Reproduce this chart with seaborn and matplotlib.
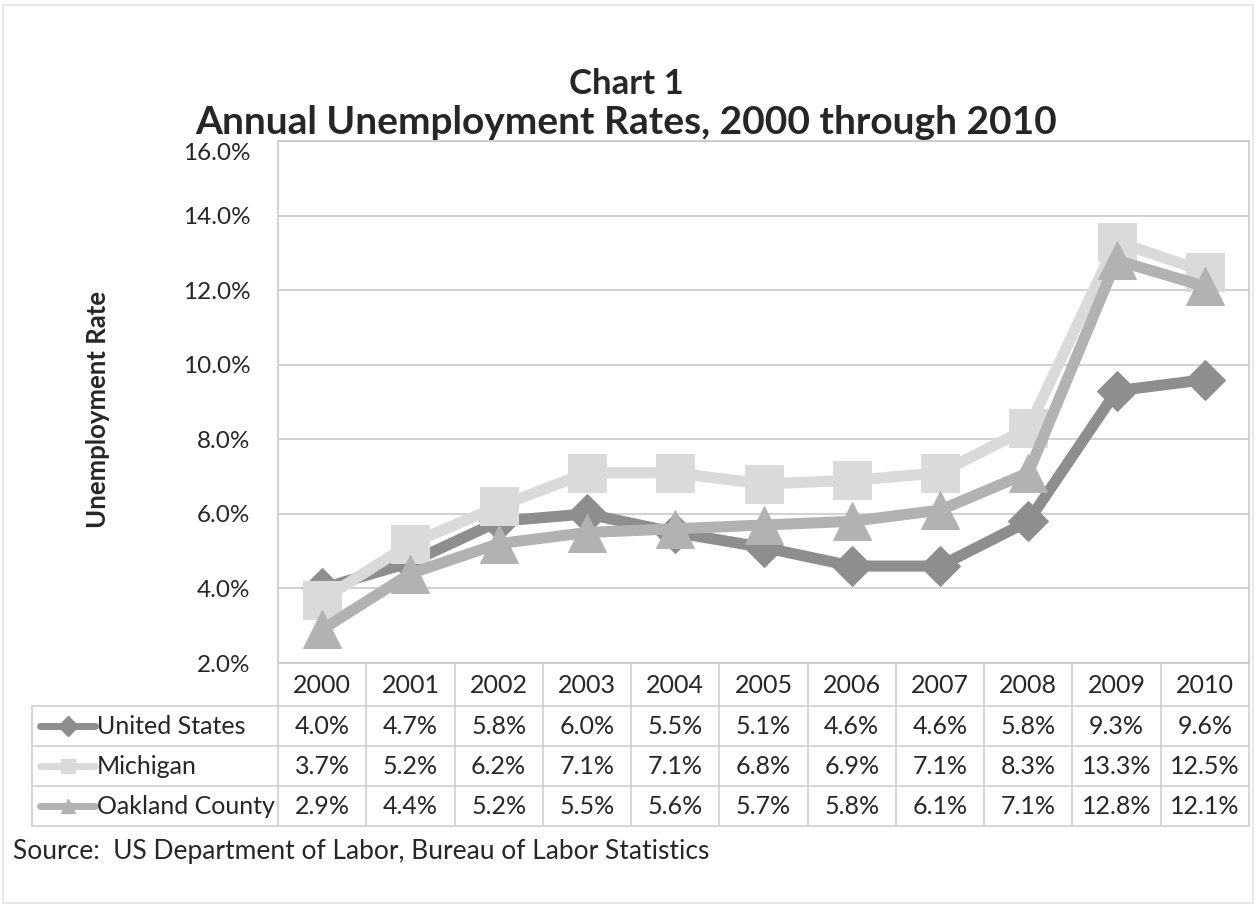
import numpy as np
import pandas as pd
import matplotlib
matplotlib.use("Agg")
import matplotlib.pyplot as plt
import matplotlib.transforms as mtransforms
import seaborn as sns

years = ["2000", "2001", "2002", "2003", "2004", "2005", "2006", "2007", "2008", "2009", "2010"]
series_names = ["United States", "Michigan", "Oakland County"]
us = [4.0, 4.7, 5.8, 6.0, 5.5, 5.1, 4.6, 4.6, 5.8, 9.3, 9.6]
mi = [3.7, 5.2, 6.2, 7.1, 7.1, 6.8, 6.9, 7.1, 8.3, 13.3, 12.5]
oak = [2.9, 4.4, 5.2, 5.5, 5.6, 5.7, 5.8, 6.1, 7.1, 12.8, 12.1]
yticks = [2, 4, 6, 8, 10, 12, 14, 16]

sns.set_theme(style="white")
plt.rcParams['font.family'] = ['Lato', 'DejaVu Sans']

W, H = 1257, 906
fig = plt.figure(figsize=(W / 100, H / 100), dpi=100)
fig.patch.set_facecolor("white")

L, R, T, B = 278, 1249, 141, 663
ax = fig.add_axes([L / W, 1 - B / H, (R - L) / W, (B - T) / H])

values = [us, mi, oak]
df = pd.DataFrame({
    "x": np.tile(np.arange(len(years)), 3),
    "rate": np.concatenate(values),
    "series": np.repeat(series_names, len(years)),
})
colors = {"United States": "#8e8e8e", "Michigan": "#dadada", "Oakland County": "#b2b2b2"}
markers = {"United States": "D", "Michigan": "s", "Oakland County": "^"}
sizes_ms = {"United States": 20, "Michigan": 27, "Oakland County": 28}

sns.lineplot(data=df, x="x", y="rate", hue="series", style="series",
             palette=colors, markers=markers, dashes=False, linewidth=8,
             markersize=20, ax=ax, legend=False, sort=False, zorder=3)
for line, name in zip(ax.get_lines(), series_names):
    line.set_markersize(sizes_ms[name])
    line.set_markeredgecolor(colors[name])
    line.set_markerfacecolor(colors[name])

ax.set_xlim(-0.5, len(years) - 0.5)
ax.set_ylim(2, 16)
ax.set_yticks(yticks)
ax.set_yticklabels([f"{v:.1f}%" for v in yticks], fontsize=17.5)
ax.tick_params(axis="y", length=0, pad=20)
ax.set_xticks([])
ax.set_xlabel("")
ax.set_ylabel("")
# the top tick label sits slightly lower, under the title
top_lbl = ax.get_yticklabels()[-1]
top_lbl.set_transform(top_lbl.get_transform() + mtransforms.ScaledTranslation(0, -11 / 100, fig.dpi_scale_trans))
for y in yticks:
    ax.axhline(y, color="#c9c9c9", lw=1.2, zorder=1)
for s in ax.spines.values():
    s.set_color("#c9c9c9")
    s.set_linewidth(1.2)

fig.text(98 / W, 1 - 410 / H, "Unemployment Rate", rotation=90, ha="center", va="center",
         fontsize=18.5, fontweight="bold")
fig.text(626 / W, 1 - 84 / H, "Chart 1", ha="center", va="center", fontsize=25, fontweight="bold")
fig.text(626 / W, 1 - 123 / H, "Annual Unemployment Rates, 2000 through 2010", ha="center",
         va="center", fontsize=28, fontweight="bold")
fig.text(13 / W, 1 - 852 / H, "Source:  US Department of Labor, Bureau of Labor Statistics",
         ha="left", va="center", fontsize=19)

# data table
TB = 826
tax = fig.add_axes([L / W, 1 - TB / H, (R - L) / W, (TB - B) / H])
tax.set_xlim(-0.5, len(years) - 0.5)
tax.set_ylim(TB, B)
tax.axis("off")
colw = (R - L) / len(years)

def px2x(px):
    return (px - L) / colw - 0.5

grid_c = "#cfcfcf"
row_edges = [B, 706, 746, 786, TB]
xl = px2x(32)
for i in range(len(years) + 1):
    tax.plot([i - 0.5, i - 0.5], [B, TB], color=grid_c, lw=1.2, clip_on=False)
for y in row_edges[1:]:
    tax.plot([xl, len(years) - 0.5], [y, y], color=grid_c, lw=1.2, clip_on=False)
tax.plot([xl, xl], [706, TB], color=grid_c, lw=1.2, clip_on=False)

fs = 18
for i, yr in enumerate(years):
    tax.text(i, (B + 706) / 2 + 1, yr, ha="center", va="center", fontsize=fs)
for r, (name, vals) in enumerate(zip(series_names, values)):
    yc = (row_edges[r + 1] + row_edges[r + 2]) / 2
    for i, v in enumerate(vals):
        tax.text(i, yc, f"{v:.1f}%", ha="center", va="center", fontsize=fs)
    tax.plot([px2x(40), px2x(95)], [yc, yc], color=colors[name], lw=5, clip_on=False,
             solid_capstyle="round")
    tax.plot([px2x(68)], [yc], marker=markers[name], color=colors[name], ms=10, clip_on=False)
    tax.text(px2x(97), yc, name, ha="left", va="center", fontsize=fs)

# faint outer frame
fig.add_artist(plt.Rectangle((3 / W, 3 / H), (W - 7) / W, (H - 8) / H, transform=fig.transFigure,
                             fill=False, edgecolor="#e4e4e4", lw=1.2))

fig.savefig("out.png", dpi=100)
